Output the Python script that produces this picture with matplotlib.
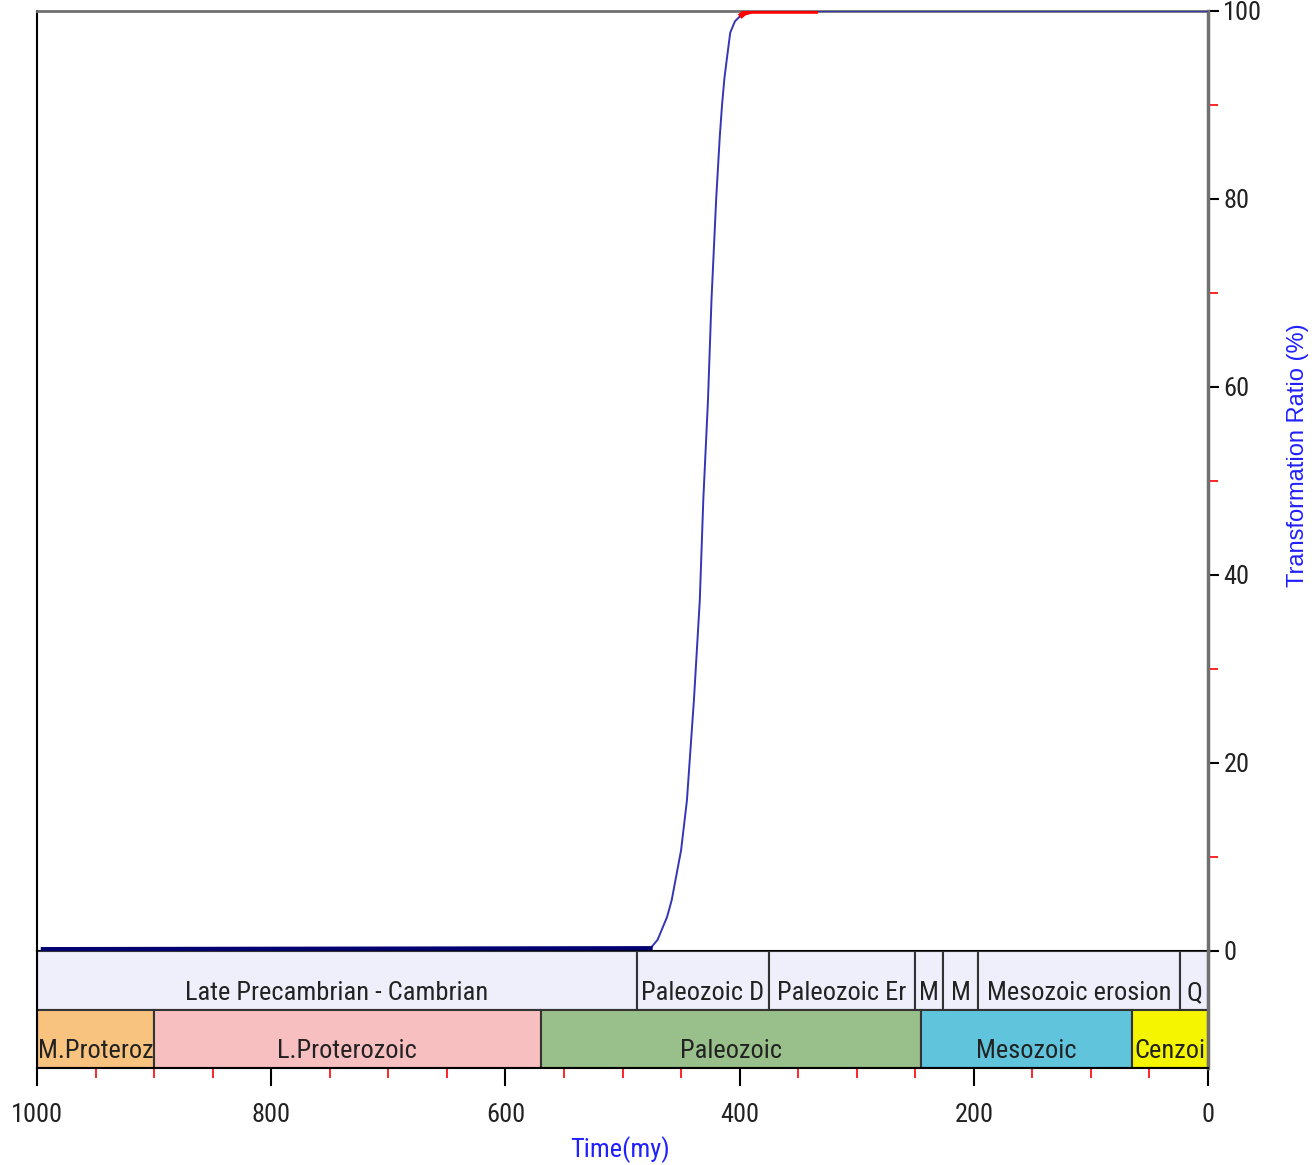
import matplotlib
matplotlib.use("Agg")
import matplotlib.pyplot as plt
from matplotlib import font_manager
from matplotlib.ticker import MultipleLocator

# transformation ratio curve (time in my, ratio in %)
time = [995, 476, 470, 462, 458, 450, 445, 439, 434, 431, 427, 424, 420, 417,
        415, 413, 411, 408, 404, 400, 396, 390, 333, 0]
ratio = [0.2, 0.3, 1.2, 3.6, 5.4, 10.7, 16, 26.7, 37.3, 48, 58.6, 69.3, 80, 86.5,
         90, 92.8, 94.8, 97.7, 98.9, 99.4, 99.8, 100, 100, 100]

# baseline (thick) and highlighted (red) parts
base_time = [995, 476]
base_ratio = [0.2, 0.3]
red_time = [400, 396, 390, 333]
red_ratio = [99.4, 99.8, 100, 100]

# events row (top band)
event_names = ["Late Precambrian - Cambrian", "Paleozoic D", "Paleozoic Er",
               "M", "M", "Mesozoic erosion", "Q"]
event_start = [1000, 488, 375, 250, 226, 196, 24]
event_end = [488, 375, 250, 226, 196, 24, 0]

# geologic periods row (bottom band)
period_names = ["M.Proteroz", "L.Proterozoic", "Paleozoic", "Mesozoic", "Cenzoi"]
period_start = [1000, 900, 570, 245, 65]
period_end = [900, 570, 245, 65, 0]
period_colors = ["#F8C37F", "#F8BFC0", "#99C08A", "#5FC4DC", "#F5F500"]

# pick a narrow font if one is installed
names = {f.name for f in font_manager.fontManager.ttflist}
narrow_font = None
for cand in ["Liberation Sans Narrow", "DejaVu Sans Condensed", "Roboto Condensed",
             "Open Sans Condensed"]:
    if cand in names:
        narrow_font = cand
        break
if narrow_font:
    narrow = [narrow_font, "DejaVu Sans"]
    fs = 19
else:
    narrow = ["Liberation Sans", "DejaVu Sans"]
    fs = 15

fig = plt.figure(figsize=(13.16, 11.65), dpi=100)
W, H = 1316, 1165
ax = fig.add_axes([37 / W, 1 - 951 / H, (1208 - 37) / W, (951 - 11) / H])
axb = fig.add_axes([37 / W, 1 - 1068 / H, (1208 - 37) / W, (1068 - 951) / H], sharex=ax)

ax.plot(time, ratio, color="#3535B5", lw=1.4, zorder=3)
ax.plot(base_time, base_ratio, color="#000070", lw=3, zorder=4)
ax.plot(red_time, red_ratio, color="red", lw=4, solid_capstyle="butt", zorder=5)

ax.set_xlim(1000, 0)
ax.set_ylim(0, 100)
ax.yaxis.tick_right()
ax.yaxis.set_major_locator(MultipleLocator(20))
ax.yaxis.set_minor_locator(MultipleLocator(10))
ax.tick_params(axis="y", which="major", length=8, width=1.5, color="black",
               labelsize=fs, pad=3)
ax.tick_params(axis="y", which="minor", length=7, width=1.2, color="red")
ax.tick_params(axis="x", which="both", bottom=False, labelbottom=False)
for lab in ax.get_yticklabels():
    lab.set_family(narrow)
    lab.set_color("#222222")
ax.spines["top"].set_color("#707070")
ax.spines["top"].set_linewidth(2)
ax.spines["right"].set_color("#707070")
ax.spines["right"].set_linewidth(2.5)
ax.spines["left"].set_color("black")
ax.spines["left"].set_linewidth(1.5)
ax.spines["bottom"].set_color("black")
ax.spines["bottom"].set_linewidth(1.5)

# bands
axb.barh([1.5] * len(event_names), [s - e for s, e in zip(event_start, event_end)],
         left=event_end, height=1, color="#EFEFFC", edgecolor="#333333", lw=1.5)
axb.barh([0.5] * len(period_names), [s - e for s, e in zip(period_start, period_end)],
         left=period_end, height=1, color=period_colors, edgecolor="#333333", lw=1.5)
for name, s, e in zip(event_names, event_start, event_end):
    axb.text((s + e) / 2, 1.08, name, ha="center", va="bottom", fontsize=fs,
             family=narrow, color="#222222")
for name, s, e in zip(period_names, period_start, period_end):
    axb.text((s + e) / 2, 0.08, name, ha="center", va="bottom", fontsize=fs,
             family=narrow, color="#222222")

axb.set_ylim(0, 2)
axb.set_xlim(1000, 0)
axb.set_yticks([])
axb.xaxis.set_major_locator(MultipleLocator(200))
axb.xaxis.set_minor_locator(MultipleLocator(50))
axb.tick_params(axis="x", which="major", length=13, width=1.5, color="black",
                labelsize=fs, pad=12)
axb.tick_params(axis="x", which="minor", length=7, width=1.2, color="red")
for lab in axb.get_xticklabels():
    lab.set_family(narrow)
    lab.set_color("#222222")
axb.spines["top"].set_visible(False)
axb.spines["right"].set_color("#707070")
axb.spines["right"].set_linewidth(2.5)
axb.spines["left"].set_linewidth(1.5)
axb.spines["bottom"].set_linewidth(1.5)

fig.text(620 / W, 1 - 1150 / H, "Time(my)", color="#2020FF", fontsize=fs,
         family=narrow, ha="center", va="center")
fig.text(1298 / W, 1 - 455 / H, "Transformation Ratio (%)", color="#2020FF",
         fontsize=17, family=["Liberation Sans", "DejaVu Sans"], rotation=90,
         ha="center", va="center")

fig.savefig("out.png", dpi=100)
